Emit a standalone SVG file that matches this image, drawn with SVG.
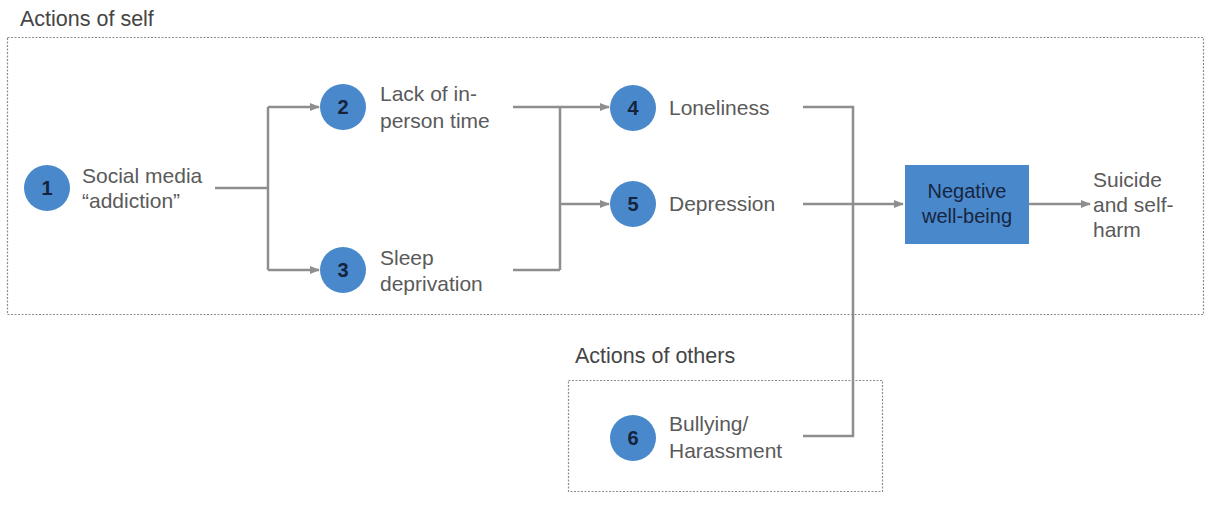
<svg xmlns="http://www.w3.org/2000/svg" width="1209" height="512" viewBox="0 0 1209 512">
<style>
.t{font-family:"Liberation Sans",Arial,sans-serif;font-size:21px;fill:#5a5a5a}
.h{font-family:"Liberation Sans",Arial,sans-serif;font-size:21.5px;fill:#454545}
.n{font-family:"Liberation Sans",Arial,sans-serif;font-size:20px;font-weight:bold;fill:#15243d;text-anchor:middle}
.c{fill:#4a88cc}
.grp{fill:none;stroke:#8c8c8c;stroke-width:1.2;stroke-dasharray:2 1.5}
.ln{fill:none;stroke:#8e8e8e;stroke-width:2.5}
.b{font-family:"Liberation Sans",Arial,sans-serif;font-size:20px;fill:#17253f;text-anchor:middle}
</style>
<defs>
<marker id="ah" viewBox="0 0 10 10" refX="9" refY="5" markerWidth="4" markerHeight="4" orient="auto" markerUnits="strokeWidth">
<path d="M0,1 L10,5 L0,9 z" fill="#8e8e8e"/>
</marker>
</defs>
<rect width="1209" height="512" fill="#ffffff"/>
<g id="group-self">
<text class="h" x="20" y="26">Actions of self</text>
<rect class="grp" x="7.5" y="37.5" width="1196" height="277"/>
</g>
<g id="group-others">
<text class="h" x="575" y="363">Actions of others</text>
<rect class="grp" x="568.5" y="380.5" width="314" height="111"/>
</g>
<g id="connectors">
<path class="ln" d="M215,188 H268"/>
<path class="ln" d="M268,107 V270"/>
<path class="ln" d="M268,107 H319" marker-end="url(#ah)"/>
<path class="ln" d="M268,270 H319" marker-end="url(#ah)"/>
<path class="ln" d="M513,107 H560 M513,270 H560 M560,107 V270"/>
<path class="ln" d="M560,107 H609" marker-end="url(#ah)"/>
<path class="ln" d="M560,204 H609" marker-end="url(#ah)"/>
<path class="ln" d="M803,107 H853 V436 H803"/>
<path class="ln" d="M803,204 H903" marker-end="url(#ah)"/>
<path class="ln" d="M1029,204 H1090" marker-end="url(#ah)"/>
</g>
<g id="node1">
<circle class="c" cx="47" cy="188" r="23"/>
<text class="n" x="47" y="195">1</text>
<text class="t" x="82" y="183">Social media</text>
<text class="t" x="82" y="208">“addiction”</text>
</g>
<g id="node2">
<circle class="c" cx="343" cy="107" r="23"/>
<text class="n" x="343" y="114">2</text>
<text class="t" x="380" y="101">Lack of in-</text>
<text class="t" x="380" y="128">person time</text>
</g>
<g id="node3">
<circle class="c" cx="343" cy="270" r="23"/>
<text class="n" x="343" y="277">3</text>
<text class="t" x="380" y="265">Sleep</text>
<text class="t" x="380" y="291">deprivation</text>
</g>
<g id="node4">
<circle class="c" cx="633" cy="108" r="23"/>
<text class="n" x="633" y="115">4</text>
<text class="t" x="669" y="115">Loneliness</text>
</g>
<g id="node5">
<circle class="c" cx="633" cy="204" r="23"/>
<text class="n" x="633" y="211">5</text>
<text class="t" x="669" y="211">Depression</text>
</g>
<g id="node6">
<circle class="c" cx="633" cy="438" r="23"/>
<text class="n" x="633" y="445">6</text>
<text class="t" x="669" y="431">Bullying/</text>
<text class="t" x="669" y="458">Harassment</text>
</g>
<g id="node-negative">
<rect x="905" y="165" width="124" height="79" fill="#4a88cc"/>
<text class="b" x="967" y="198">Negative</text>
<text class="b" x="967" y="223">well-being</text>
</g>
<g id="node-suicide">
<text class="t" x="1093" y="187">Suicide</text>
<text class="t" x="1093" y="212">and self-</text>
<text class="t" x="1093" y="237">harm</text>
</g>
</svg>
